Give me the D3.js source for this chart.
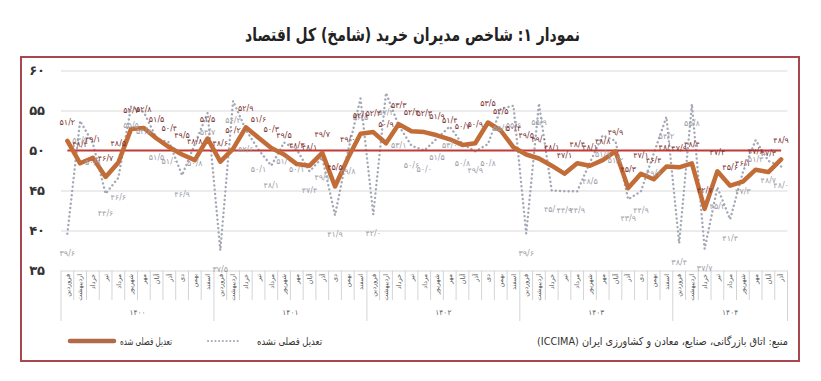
<!DOCTYPE html>
<html><head><meta charset="utf-8">
<script src="https://cdn.jsdelivr.net/npm/d3@7"></script>
<style>
html,body{margin:0;padding:0;background:#fff;}
svg{display:block;font-family:"DejaVu Sans",sans-serif;}
</style></head>
<body>
<svg id="chart" width="821" height="381"></svg>
<script>
// ---------- data ----------
const years = ["۱۴۰۰","۱۴۰۱","۱۴۰۲","۱۴۰۳","۱۴۰۴"];
const monthsPerYear = [12,12,12,12,9];
const monthNames = ["فروردین","اردیبهشت","خرداد","تیر","مرداد","شهریور","مهر","آبان","آذر","دی","بهمن","اسفند"];
const adjusted = [51.2,48.4,49.1,46.7,48.5,52.7,52.8,51.5,50.4,49.5,48.8,51.5,
  48.6,50.2,52.9,51.6,50.3,49.5,48.3,48.1,49.7,45.5,49.0,52.1,
  52.3,50.9,53.3,52.4,52.3,51.9,51.4,50.7,50.9,53.5,52.5,50.4,
  49.5,49.0,48.1,47.1,48.4,48.1,48.8,49.9,45.3,47.1,46.4,48.0,
  47.9,48.4,42.7,47.4,45.6,46.1,47.6,47.3,48.9];
const unadjusted = [39.6,53.7,50.9,44.6,46.6,55.5,54.8,51.5,51.0,46.9,50.8,54.7,
  37.5,56.2,52.6,50.1,48.1,51.0,50.1,47.4,49.1,41.9,49.8,56.5,
  42.0,57.2,53.1,50.6,50.0,51.5,53.0,50.8,49.9,50.8,55.2,55.6,
  39.6,55.9,45.0,44.9,44.9,48.5,51.9,51.2,43.9,44.9,49.6,54.2,
  38.4,55.8,37.7,45.4,41.4,47.3,51.3,48.7,48.0];
const threshold = 50;
const yTicks = [35,40,45,50,55,60];
const titleText = "نمودار ۱: شاخص مدیران خرید (شامخ) کل اقتصاد";
const legendAdj = "تعدیل فصلی شده";
const legendUnadj = "تعدیل فصلی نشده";
const sourceText = "منبع: اتاق بازرگانی، صنایع، معادن و کشاورزی ایران (ICCIMA)";

// ---------- helpers ----------
const faDigits = "۰۱۲۳۴۵۶۷۸۹";
const toFa = s => String(s).replace(/[0-9]/g, d => faDigits[+d]);
const fmtVal = v => toFa(v.toFixed(1).replace(".", "/"));

const categories = [];
years.forEach((y, yi) => { for (let m = 0; m < monthsPerYear[yi]; m++) categories.push({year: yi, month: m}); });
const idx = categories.map((d, i) => i);

const svg = d3.select("#chart");
const x = d3.scaleBand().domain(idx).range([61, 787.5]).padding(0);
const cx = i => x(i) + x.bandwidth() / 2;
const y = d3.scaleLinear().domain([35, 60]).range([270.5, 70.5]);

// border
svg.append("rect").attr("x", 21).attr("y", 57).attr("width", 778).attr("height", 304)
  .attr("fill", "none").attr("stroke", "#a8474d").attr("stroke-width", 2);

// title
svg.append("text").attr("x", 412.5).attr("y", 41).attr("text-anchor", "middle")
  .attr("font-size", 18).attr("font-weight", "bold").attr("fill", "#222")
  .attr("direction", "rtl").attr("textLength", 335).attr("lengthAdjust", "spacingAndGlyphs")
  .text(titleText);

// gridlines
const grid = svg.append("g").attr("transform", "translate(61,0)")
  .call(d3.axisLeft(y).tickValues(yTicks.filter(t => t !== threshold)).tickSize(-726.5).tickFormat(""));
grid.select(".domain").remove();
grid.selectAll("line").attr("stroke", "#d9d9d9").attr("stroke-width", 1);

// y axis labels
const yAxis = svg.append("g").attr("transform", "translate(61,0)")
  .call(d3.axisLeft(y).tickValues(yTicks).tickSize(0).tickPadding(16).tickFormat(d => toFa(d)));
yAxis.select(".domain").remove();
yAxis.selectAll("text").attr("font-size", 13).attr("font-weight", "bold").attr("fill", "#333")
  .attr("font-family", "DejaVu Sans");

// category table
const table = svg.append("g");
const xAxis = svg.append("g").attr("transform", "translate(0,270.5)")
  .call(d3.axisBottom(x).tickSize(0).tickFormat(i => monthNames[categories[i].month]));
xAxis.select(".domain").remove();
xAxis.selectAll("text")
  .attr("transform", "rotate(-90)")
  .attr("x", -3.5).attr("y", 0).attr("dy", "0.35em")
  .attr("text-anchor", "end")
  .attr("font-size", 6.5).attr("fill", "#555").attr("font-family", "DejaVu Sans");
const bounds = d3.range(idx.length + 1);
let yearStarts = [0];
monthsPerYear.forEach((c, i) => yearStarts.push(yearStarts[i] + c));
bounds.forEach(b => {
  const bx = b < idx.length ? x(b) : x(idx.length - 1) + x.bandwidth();
  const isYear = yearStarts.includes(b);
  table.append("line").attr("x1", bx).attr("x2", bx)
    .attr("y1", 270.5).attr("y2", isYear ? 321 : 300)
    .attr("stroke", "#d4d4d4").attr("stroke-width", 1);
});
years.forEach((yr, yi) => {
  const a = x(yearStarts[yi]);
  const b = x(yearStarts[yi + 1] - 1) + x.bandwidth();
  table.append("text").attr("x", (a + b) / 2).attr("y", 315).attr("text-anchor", "middle")
    .attr("font-size", 7.5).attr("fill", "#666").text(yr);
});

// series
const lineGen = d3.line().x((d, i) => cx(i)).y(d => y(d));
svg.append("path").datum(unadjusted).attr("d", lineGen)
  .attr("fill", "none").attr("stroke", "#a3a8b5").attr("stroke-width", 2.4)
  .attr("stroke-linecap", "round").attr("stroke-dasharray", "0.1 4.2");
svg.append("path").datum(idx.map(() => threshold)).attr("d", lineGen)
  .attr("fill", "none").attr("stroke", "#c23a36").attr("stroke-width", 2);
svg.append("path").datum(adjusted).attr("d", lineGen)
  .attr("fill", "none").attr("stroke", "#c26c38").attr("stroke-width", 4.5)
  .attr("stroke-linejoin", "round").attr("stroke-linecap", "round");

// data labels
svg.append("g").selectAll("text").data(unadjusted).join("text")
  .attr("x", (d, i) => cx(i)).attr("y", d => y(d) + 19).attr("dy", "0.35em")
  .attr("text-anchor", "middle").attr("font-size", 8).attr("fill", "#a0a0a8")
  .text(d => fmtVal(d));
svg.append("g").selectAll("text").data(adjusted).join("text")
  .attr("x", (d, i) => cx(i)).attr("y", d => y(d) - 19).attr("dy", "0.35em")
  .attr("text-anchor", "middle").attr("font-size", 8).attr("fill", "#7d3535")
  .text(d => fmtVal(d));

// legend
const lg = svg.append("g");
lg.append("line").attr("x1", 70).attr("x2", 114).attr("y1", 341).attr("y2", 341)
  .attr("stroke", "#b06a48").attr("stroke-width", 4.5).attr("stroke-linecap", "round");
lg.append("text").attr("x", 146).attr("y", 344.5).attr("direction", "rtl").attr("text-anchor", "middle")
  .attr("font-size", 10.5).attr("fill", "#333")
  .attr("textLength", 52).attr("lengthAdjust", "spacingAndGlyphs").text(legendAdj);
lg.append("line").attr("x1", 208).attr("x2", 240).attr("y1", 341).attr("y2", 341)
  .attr("stroke", "#a3a8b5").attr("stroke-width", 2).attr("stroke-linecap", "round")
  .attr("stroke-dasharray", "0.1 3.6");
lg.append("text").attr("x", 289.5).attr("y", 344.5).attr("direction", "rtl").attr("text-anchor", "middle")
  .attr("font-size", 10.5).attr("fill", "#333")
  .attr("textLength", 65).attr("lengthAdjust", "spacingAndGlyphs").text(legendUnadj);
lg.append("text").attr("x", 662.5).attr("y", 344.5).attr("direction", "rtl").attr("text-anchor", "middle")
  .attr("font-size", 11).attr("fill", "#333")
  .attr("textLength", 251).attr("lengthAdjust", "spacingAndGlyphs").text(sourceText);
</script>
</body></html>
